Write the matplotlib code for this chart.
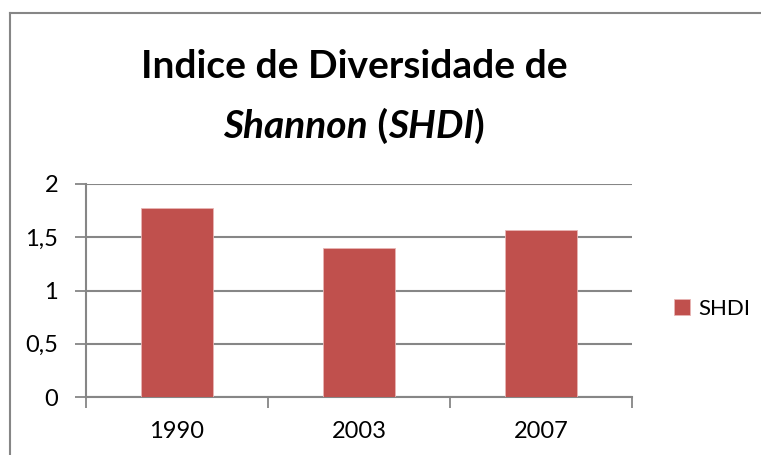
import matplotlib.pyplot as plt
from matplotlib.lines import Line2D

anos = ['1990', '2003', '2007']
shdi = [1.77, 1.40, 1.57]
yticks = [0, 0.5, 1, 1.5, 2]
ylabels = ['0', '0,5', '1', '1,5', '2']

plt.rcParams['font.family'] = ['Lato', 'DejaVu Sans']
cinza = '#868686'
vermelho = '#C0504D'

W, H = 761, 455
fig = plt.figure(figsize=(W / 100, H / 100), dpi=100)
ax = fig.add_axes([86 / W, 58 / H, (632 - 86) / W, (397 - 184) / H])

x = [1, 2, 3]
ax.bar(x, shdi, width=0.4, color=vermelho, edgecolor='#E8B5B4', linewidth=0.6, zorder=3)

ax.set_xlim(0.5, 3.5)
ax.set_ylim(0, 2)
ax.set_yticks(yticks)
ax.set_yticklabels(ylabels)
ax.yaxis.grid(True, color=cinza, linewidth=1.5, zorder=0)
ax.tick_params(axis='y', length=8, width=1.3, color=cinza, pad=12, labelsize=17, direction='out')

# ticks entre categorias, rotulos no centro
ax.set_xticks([0.5, 1.5, 2.5, 3.5])
ax.set_xticklabels([])
ax.set_xticks(x, minor=True)
ax.set_xticklabels(anos, minor=True)
ax.tick_params(axis='x', which='major', length=8, width=1.3, color=cinza, direction='out')
ax.tick_params(axis='x', which='minor', length=0, pad=17, labelsize=17)

for s in ['top', 'right']:
    ax.spines[s].set_visible(False)
for s in ['left', 'bottom']:
    ax.spines[s].set_color(cinza)
    ax.spines[s].set_linewidth(1.5)

# legenda
ax.legend(['SHDI'], loc='center left', bbox_to_anchor=(674 / W, 1 - 309 / H),
          bbox_transform=fig.transFigure, frameon=False, fontsize=16,
          borderpad=0, borderaxespad=0,
          handlelength=0.7, handleheight=0.7, handletextpad=0.4)

# titulo
fig.text(354 / W, 1 - 78 / H, 'Indice de Diversidade de', ha='center', va='baseline',
         fontsize=28, fontweight='bold')

partes = [('Shannon', 'italic'), (' (', 'normal'), ('SHDI', 'italic'), (')', 'normal')]
r = fig.canvas.get_renderer()
textos = []
for txt, st in partes:
    t = fig.text(0, 1 - 138 / H, txt, ha='left', va='baseline', fontsize=28,
                 fontweight='bold', fontstyle=st)
    textos.append(t)
larg = [t.get_window_extent(r).width for t in textos]
x0 = 354 - sum(larg) / 2
for t, w in zip(textos, larg):
    t.set_x(x0 / W)
    x0 += w

# borda do grafico
fig.add_artist(Line2D([10 / W, 10 / W], [0, 1 - 13 / H], color=cinza, linewidth=1.5))
fig.add_artist(Line2D([10 / W, 1], [1 - 13 / H, 1 - 13 / H], color=cinza, linewidth=1.5))

fig.savefig('out.png', dpi=100)
